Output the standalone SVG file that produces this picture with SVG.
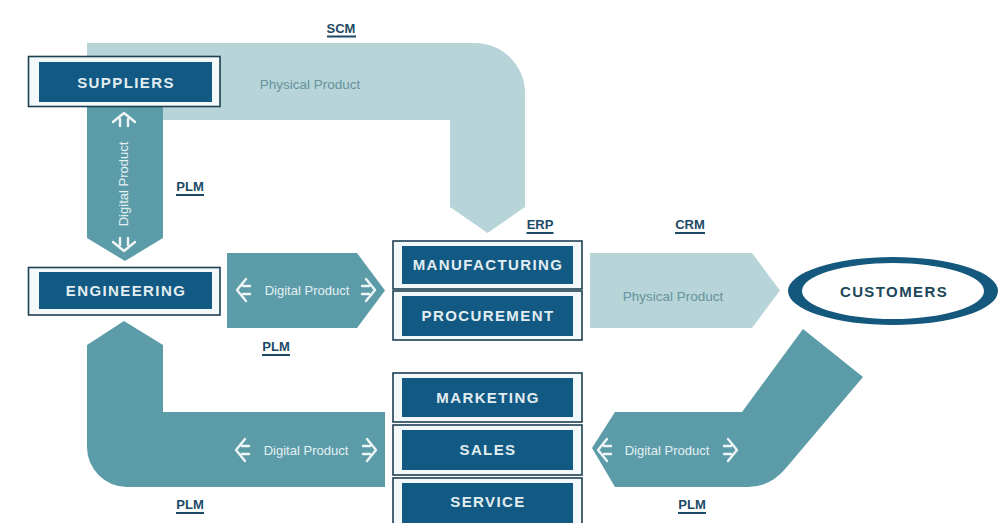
<svg xmlns="http://www.w3.org/2000/svg" width="1004" height="523" viewBox="0 0 1004 523">
<defs>
<style>
.light{fill:#b7d4d8}
.mid{fill:#5c9ca8}
.frame{fill:#f3f8fa;stroke:#1d3f52;stroke-width:1.6}
.inner{fill:#125a83}
.bt{font-family:"Liberation Sans",Arial,sans-serif;font-weight:bold;font-size:15px;fill:#e2edf2;text-anchor:middle;letter-spacing:1.4px}
.lbl{font-family:"Liberation Sans",Arial,sans-serif;font-weight:bold;font-size:13px;fill:#1c4a66;text-anchor:middle}
.ul{fill:#1c4a66}
.dp{font-family:"Liberation Sans",Arial,sans-serif;font-size:13px;fill:#e4f0f2;text-anchor:middle}
.pp{font-family:"Liberation Sans",Arial,sans-serif;font-size:13.5px;fill:#66939c;text-anchor:middle}
.ic{fill:none;stroke:#eef6f7;stroke-width:2.4;stroke-linecap:round;stroke-linejoin:round}
</style>
<path id="icL" d="M14,-4 H7 M14,4 H7 M10,-11 L1,0 L10,11"/>
</defs>
<rect width="1004" height="523" fill="#ffffff"/>

<g id="connectors">
  <!-- SCM: suppliers to manufacturing -->
  <path class="light" d="M87,43 H475 A50,50 0 0 1 525,93 V207 L487.5,233 L450,207 V120 H87 Z"/>
  <text class="pp" x="310" y="89">Physical Product</text>
  <!-- PLM vertical: suppliers to engineering -->
  <path class="mid" d="M87,100 H163 V238 L125,261 L87,238 Z"/>
  <use href="#icL" class="ic" transform="translate(124,112) rotate(90)"/>
  <use href="#icL" class="ic" transform="translate(124,252) rotate(-90)"/>
  <text class="dp" transform="translate(128,184) rotate(-90)">Digital Product</text>
  <!-- PLM middle: engineering to manufacturing -->
  <path class="mid" d="M227,253 H357 L385,290.5 L357,328 H227 Z"/>
  <use href="#icL" class="ic" transform="translate(236,290)"/>
  <use href="#icL" class="ic" transform="translate(376,290) scale(-1,1)"/>
  <text class="dp" x="307" y="295">Digital Product</text>
  <!-- CRM physical -->
  <path class="light" d="M590,253 H752 L780,290.5 L752,328 H590 Z"/>
  <text class="pp" x="673" y="301">Physical Product</text>
  <!-- PLM lower left -->
  <path class="mid" d="M87,345 L124,321 L163,345 V412 H385 V487 H127 A40,40 0 0 1 87,447 Z"/>
  <use href="#icL" class="ic" transform="translate(235,450)"/>
  <use href="#icL" class="ic" transform="translate(377,450) scale(-1,1)"/>
  <text class="dp" x="306" y="455">Digital Product</text>
  <!-- PLM lower right -->
  <path class="mid" d="M592,448 L615,412 H742 L803,329 L863,377 L786,468 Q770,487 748,487 H615 Z"/>
  <use href="#icL" class="ic" transform="translate(597,450)"/>
  <use href="#icL" class="ic" transform="translate(738,450) scale(-1,1)"/>
  <text class="dp" x="667" y="455">Digital Product</text>
</g>

<g id="labels">
  <text class="lbl" x="341" y="33">SCM</text><rect class="ul" x="327" y="35.5" width="29" height="2"/>
  <text class="lbl" x="190" y="191">PLM</text><rect class="ul" x="176" y="194" width="28" height="2"/>
  <text class="lbl" x="540" y="229">ERP</text><rect class="ul" x="526.5" y="232" width="27" height="2"/>
  <text class="lbl" x="690" y="229">CRM</text><rect class="ul" x="675" y="232" width="30" height="2"/>
  <text class="lbl" x="276" y="351">PLM</text><rect class="ul" x="262" y="354" width="28" height="2"/>
  <text class="lbl" x="190" y="509">PLM</text><rect class="ul" x="176" y="512" width="28" height="2"/>
  <text class="lbl" x="692" y="509">PLM</text><rect class="ul" x="678" y="512" width="28" height="2"/>
</g>

<g id="suppliers">
  <rect class="frame" x="28.5" y="56.5" width="191.5" height="50"/>
  <rect class="inner" x="39" y="62" width="173" height="40"/>
  <text class="bt" x="126" y="88">SUPPLIERS</text>
</g>
<g id="engineering">
  <rect class="frame" x="28.5" y="267.5" width="191.5" height="47.5"/>
  <rect class="inner" x="39" y="272" width="173" height="37"/>
  <text class="bt" x="126" y="296">ENGINEERING</text>
</g>
<g id="manufacturing">
  <rect class="frame" x="393" y="241" width="189" height="48"/>
  <rect class="inner" x="402" y="246" width="171" height="38"/>
  <text class="bt" x="488" y="270">MANUFACTURING</text>
</g>
<g id="procurement">
  <rect class="frame" x="393" y="291" width="189" height="49"/>
  <rect class="inner" x="402" y="296" width="171" height="40"/>
  <text class="bt" x="488" y="321">PROCUREMENT</text>
</g>
<g id="marketing">
  <rect class="frame" x="393" y="373" width="189" height="49"/>
  <rect class="inner" x="402" y="378" width="171" height="39"/>
  <text class="bt" x="488" y="403">MARKETING</text>
</g>
<g id="sales">
  <rect class="frame" x="393" y="425" width="189" height="50"/>
  <rect class="inner" x="402" y="430" width="171" height="40"/>
  <text class="bt" x="488" y="455">SALES</text>
</g>
<g id="service">
  <rect class="frame" x="393" y="478" width="189" height="50"/>
  <rect class="inner" x="402" y="483" width="171" height="42"/>
  <text class="bt" x="488" y="507">SERVICE</text>
</g>
<g id="customers">
  <path fill="#14587d" fill-rule="evenodd" d="M788,291 A105,34 0 1 0 998,291 A105,34 0 1 0 788,291 Z M802,291 A91,28 0 1 0 984,291 A91,28 0 1 0 802,291 Z"/>
  <text class="bt" x="894" y="297" style="fill:#1d4658">CUSTOMERS</text>
</g>
</svg>
